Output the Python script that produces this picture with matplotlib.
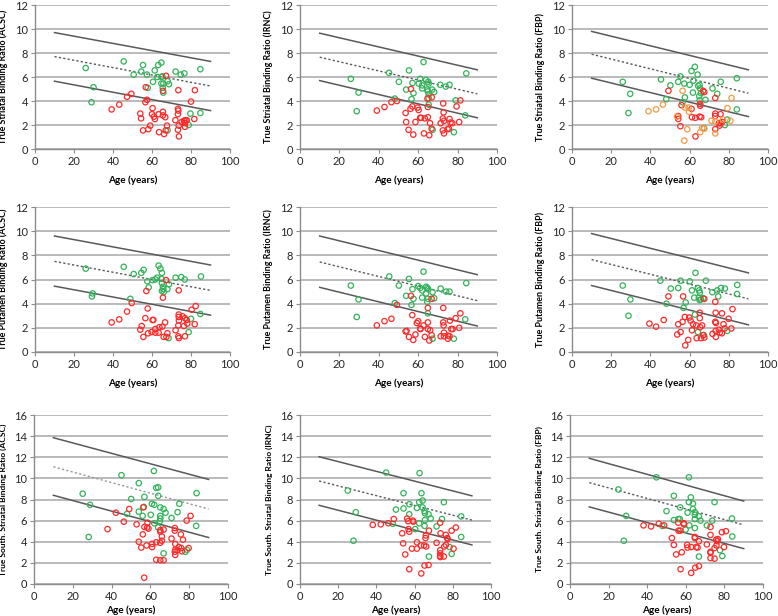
import matplotlib
matplotlib.use("Agg")
import matplotlib.pyplot as plt

# ---- data (age in years, binding ratio) ----
line_age = [10, 90]

# Row 1: striatal
str_acsc_green_age = [26, 30, 29, 45.5, 50.6, 55.4, 54.5, 57.4, 61.4, 63.2, 64.8, 62.7, 64.8, 65.3, 60.5, 57.8, 64.8, 65.8, 65.5, 65.8, 68, 68.7, 72.1, 74.7, 76.6, 84.8, 79.7, 84.8, 78.8, 68]
str_acsc_green_val = [6.75, 5.15, 3.9, 7.3, 6.2, 7.0, 6.45, 6.2, 6.55, 7.0, 7.2, 6.0, 6.0, 6.05, 5.6, 5.1, 5.45, 5.45, 5.1, 4.7, 5.65, 5.4, 6.45, 6.2, 6.3, 6.65, 2.95, 3.0, 2.0, 1.55]
str_acsc_red_age = [39.3, 43.2, 47.2, 49.4, 56.8, 57.4, 56.6, 54, 54.4, 55.4, 58.1, 59.1, 60.3, 60, 61, 61.5, 63.4, 65.6, 65.6, 65.6, 66.8, 67.2, 67.7, 63.6, 66.2, 67, 72, 73.3, 73.5, 73.3, 73.7, 73.3, 73.8, 73.5, 75.2, 76.4, 77.1, 77.8, 76.9, 76.9, 80, 82, 81.7]
str_acsc_red_val = [3.3, 3.7, 4.35, 4.6, 5.15, 4.1, 3.9, 2.95, 2.55, 1.55, 1.65, 1.95, 3.4, 2.9, 2.7, 2.5, 2.9, 3.1, 2.8, 4.85, 2.65, 6.1, 1.95, 1.4, 1.25, 1.55, 2.4, 3.35, 3.2, 2.9, 1.95, 1.6, 1.05, 4.9, 2.25, 2.35, 2.4, 2.4, 2.15, 1.85, 3.95, 4.9, 2.5]
str_acsc_lines = ([9.7, 7.3], [7.7, 5.25], [5.65, 3.2])

str_irnc_green_age = [25.8, 29.7, 28.8, 45.2, 50.2, 55.3, 53.9, 57.1, 57.6, 56.6, 48.1, 60.3, 61, 62, 62.7, 62, 64, 64.6, 65.1, 65.3, 64.9, 65.3, 67.1, 68.1, 65.3, 65.3, 67.3, 71.2, 74, 75.9, 78.1, 79, 83.9, 84.4]
str_irnc_green_val = [5.85, 4.7, 3.15, 6.35, 5.6, 6.55, 4.95, 5.5, 4.65, 4.15, 4.2, 5.45, 5.85, 5.3, 7.25, 5.05, 5.75, 4.95, 5.6, 5.45, 4.8, 4.55, 4.95, 4.75, 4.25, 3.7, 1.6, 5.35, 5.2, 5.35, 1.4, 4.05, 2.8, 6.3]
str_irnc_red_age = [39, 42.9, 46.4, 49.2, 56.3, 56.1, 57, 53.6, 53.9, 55.1, 57.5, 58.6, 59.7, 60.2, 61, 61.5, 63.4, 64.9, 64.7, 64.9, 66.9, 62.9, 65.6, 66, 66.8, 71.4, 72.7, 72.9, 72.5, 73.1, 72.5, 73.1, 74.9, 75.9, 75.6, 76.4, 77.3, 79.5, 81.4, 80.8]
str_irnc_red_val = [3.2, 3.5, 3.9, 4.0, 5.0, 3.35, 3.55, 3.0, 2.25, 1.6, 1.2, 2.25, 3.45, 3.25, 2.6, 2.6, 2.55, 2.65, 4.2, 3.5, 4.3, 1.3, 1.15, 2.15, 1.7, 2.15, 3.8, 3.05, 2.55, 2.35, 1.55, 1.3, 1.65, 2.5, 1.7, 2.2, 2.15, 3.55, 4.05, 2.25]
str_irnc_lines = ([9.65, 6.6], [7.65, 4.6], [5.7, 2.6])

str_fbp_green_age = [25.9, 29.7, 28.8, 45.4, 48.1, 50.2, 54.2, 55.3, 57.3, 57.6, 56.4, 60, 61, 62.7, 62, 61.7, 64.1, 64.4, 65.1, 65.3, 64.9, 65.1, 65.8, 68.1, 71.7, 74.1, 75.9, 84.1, 84.1, 79.2, 78, 67.3]
str_fbp_green_val = [5.6, 4.6, 3.0, 5.8, 4.15, 5.3, 5.6, 6.05, 5.45, 4.3, 3.9, 5.35, 6.5, 6.85, 5.7, 4.7, 6.2, 5.25, 5.35, 5.05, 4.4, 4.05, 4.65, 4.1, 5.05, 4.6, 5.6, 5.9, 3.3, 2.45, 2.0, 1.75]
str_fbp_red_age = [49.2, 55.9, 54.2, 54.2, 55.3, 61, 61.2, 62.9, 65.4, 65.4, 65.1, 65.9, 66.9, 67.5, 73.1, 73.1, 73.1, 73.1, 75.8, 75, 75.7, 76.6, 75.3, 63]
str_fbp_red_val = [4.85, 3.65, 2.75, 2.5, 1.9, 3.35, 2.65, 2.6, 3.75, 3.6, 2.7, 2.65, 4.85, 4.75, 4.25, 2.95, 2.75, 1.65, 2.9, 2.15, 2.15, 2.25, 1.95, 1.05]
str_fbp_orange_age = [39, 42.9, 46.4, 56.4, 57.6, 59.5, 59.7, 53.6, 58.8, 57.3, 65.4, 66.4, 67.5, 71.2, 73.1, 73.1, 77, 79.3, 81.4, 80.8]
str_fbp_orange_val = [3.15, 3.3, 3.7, 4.85, 3.45, 3.45, 3.1, 2.7, 1.65, 0.7, 1.4, 1.75, 1.7, 2.35, 2.3, 1.3, 2.45, 3.4, 4.25, 2.35]
str_fbp_lines = ([9.8, 6.6], [7.9, 4.65], [5.9, 2.7])

# Row 2: putamen
put_acsc_green_age = [26, 29.6, 29.2, 45.5, 50.6, 54.5, 55.7, 57.6, 58.3, 48.9, 60.3, 61.7, 62.6, 63.4, 64.3, 65.1, 64.8, 65.1, 65.6, 65.8, 65.1, 66, 67.9, 68.7, 72.1, 75, 76.8, 85.1, 84.8, 80, 78.8, 68.5]
put_acsc_green_val = [6.9, 4.85, 4.6, 7.05, 6.45, 6.55, 6.8, 5.85, 5.35, 4.4, 5.95, 6.0, 6.15, 7.15, 6.9, 6.55, 6.05, 5.7, 5.4, 5.2, 5.05, 4.95, 5.2, 5.6, 6.15, 6.2, 6.0, 6.25, 3.15, 2.75, 1.65, 1.15]
put_acsc_red_age = [39.3, 43.2, 47.2, 49.6, 57.1, 57.8, 56.6, 54, 54.7, 55.6, 58, 59.8, 60.3, 60.7, 61.7, 61.7, 63.8, 65.3, 65.6, 66.7, 67.2, 67.9, 63.4, 66, 67.4, 72.1, 73.7, 73.7, 73.8, 73.5, 73.5, 73.8, 73.7, 75.7, 76.9, 77.8, 76.4, 78.1, 76.9, 80.3, 82.4, 81.9]
put_acsc_red_val = [2.45, 2.7, 3.35, 4.05, 5.05, 3.6, 2.8, 1.85, 2.15, 1.25, 1.55, 1.65, 2.65, 2.65, 1.9, 1.6, 2.05, 2.1, 4.5, 2.45, 5.95, 1.55, 1.6, 1.25, 1.25, 1.8, 3.1, 2.9, 2.6, 2.2, 1.3, 1.15, 5.1, 2.95, 2.8, 2.65, 2.15, 2.35, 1.3, 3.5, 3.8, 2.3]
put_acsc_lines = ([9.6, 7.2], [7.5, 5.1], [5.45, 3.05])

put_irnc_green_age = [25.8, 29.7, 28.8, 45.3, 50.2, 55.3, 53.9, 57.1, 57.6, 56.6, 48.1, 60, 61, 62, 62.7, 62, 64, 64.6, 65.1, 64, 64.9, 64.6, 67.3, 68.1, 64.9, 67.3, 71.4, 74.2, 75.9, 78.1, 83.9, 84.4]
put_irnc_green_val = [5.5, 4.35, 2.9, 6.25, 5.5, 6.05, 4.65, 5.2, 4.4, 3.9, 4.05, 5.45, 5.3, 5.1, 6.65, 4.5, 5.4, 5.3, 5.2, 4.85, 4.4, 4.15, 4.95, 4.45, 3.2, 1.1, 5.25, 5.0, 5.0, 1.1, 2.7, 5.7]
put_irnc_red_age = [39, 42.9, 46.4, 49.2, 56.3, 57, 53.6, 54.1, 55.3, 57.5, 58.6, 59.3, 60, 61, 61.2, 62.7, 63.4, 64.9, 64.9, 64.9, 65.6, 66.1, 66.8, 66.8, 71.4, 72.7, 72.7, 72.9, 73.1, 73.1, 75.1, 75.1, 75.9, 76.1, 76.8, 77.5, 79, 81.4, 80.8]
put_irnc_red_val = [2.2, 2.55, 2.75, 3.9, 4.65, 3.05, 1.7, 1.75, 1.25, 1.0, 1.45, 2.4, 2.55, 1.95, 1.9, 2.2, 1.25, 2.45, 3.65, 1.9, 0.95, 1.8, 1.4, 4.4, 1.3, 3.65, 2.45, 2.2, 1.6, 1.3, 1.35, 1.1, 1.3, 2.6, 1.9, 1.9, 2.8, 3.2, 2.0]
put_irnc_lines = ([9.6, 6.4], [7.45, 4.25], [5.35, 2.15])

put_fbp_green_age = [25.9, 29.8, 28.8, 45.1, 48.2, 50.4, 54.2, 55.4, 58, 56.9, 60.1, 61.2, 63, 62.4, 64.2, 64.9, 65.2, 64.7, 65.1, 65.8, 68.3, 71.6, 74.1, 76, 78, 74.6, 84.2, 84.3, 79.2, 64.2, 67.3, 62.7, 66.9]
put_fbp_green_val = [5.5, 4.35, 3.0, 5.9, 4.0, 5.25, 5.3, 5.9, 4.1, 3.65, 5.85, 5.1, 6.55, 4.5, 5.3, 5.1, 4.9, 4.5, 4.3, 4.35, 5.9, 4.95, 5.1, 5.3, 5.25, 4.6, 4.8, 5.55, 1.75, 1.65, 1.4, 3.1, 4.45]
put_fbp_red_age = [39.5, 42.9, 46.8, 49.2, 56.7, 57.6, 56.4, 55.4, 53.7, 54.2, 57.8, 59.3, 59.8, 60.5, 61.2, 61.8, 63.4, 63.6, 65.2, 65.2, 65.4, 65.8, 66.4, 66.9, 67.5, 67.5, 71.7, 73.1, 73.3, 73.1, 73.4, 73.3, 73.4, 74.9, 75.4, 76.5, 76.5, 77.3, 77.9, 79.9, 81.9, 81.3]
put_fbp_red_val = [2.35, 2.1, 2.65, 4.6, 4.6, 2.9, 2.5, 1.65, 1.45, 2.3, 0.55, 1.0, 2.85, 2.6, 1.8, 2.3, 2.2, 1.15, 3.25, 2.8, 2.05, 1.15, 2.2, 1.4, 4.4, 1.2, 1.5, 4.15, 3.25, 2.5, 2.4, 1.75, 1.25, 1.85, 1.6, 3.2, 1.55, 2.3, 1.95, 2.75, 3.55, 1.95]
put_fbp_lines = ([9.8, 6.55], [7.65, 4.4], [5.5, 2.25])

# Row 3: south striatal
sth_acsc_green_age = [25.1, 28.9, 28.2, 45.1, 50.1, 54, 54, 56.9, 56.6, 56, 48, 60.2, 60.8, 62, 61.8, 63, 64, 64, 65.1, 65.1, 65.1, 64.9, 62, 64, 66.8, 67.8, 70.9, 74, 74.9, 83.8, 83.6, 66.8, 78, 78.8]
sth_acsc_green_val = [8.55, 7.5, 4.45, 10.3, 8.05, 9.55, 6.85, 8.25, 7.3, 6.45, 6.65, 6.55, 7.6, 7.5, 10.7, 9.1, 9.15, 8.35, 7.25, 6.45, 6.2, 5.95, 5.75, 5.35, 7.1, 6.75, 6.25, 6.8, 7.6, 8.6, 5.5, 2.9, 3.05, 3.25]
sth_acsc_red_age = [37.9, 42.2, 46.3, 49.1, 56.3, 52.9, 54, 55.3, 56.1, 56.9, 58.3, 58.5, 59, 58, 56.8, 60.9, 60.9, 63, 63, 65.1, 65.1, 65.1, 65.1, 65.9, 65.9, 66.8, 66.8, 70.9, 72.6, 72.6, 72.8, 72.8, 72.6, 72.8, 74, 74.7, 76.2, 75.9, 75.7, 76.8, 78.7, 79.7, 80.7]
sth_acsc_red_val = [5.2, 6.75, 5.9, 7.1, 7.25, 5.65, 4.0, 3.45, 4.7, 5.4, 5.35, 5.8, 5.25, 3.65, 0.6, 3.8, 3.5, 3.95, 2.3, 5.1, 4.95, 3.9, 2.25, 4.5, 4.1, 5.15, 2.25, 4.3, 5.3, 5.05, 3.8, 3.25, 3.05, 2.75, 3.2, 3.5, 3.1, 3.4, 4.7, 4.2, 6.0, 3.4, 6.45]
sth_acsc_lines = ([13.85, 9.9], [11.1, 7.1], [8.4, 4.4])

sth_irnc_green_age = [25, 29.2, 28, 45.1, 50.2, 54.2, 54.2, 57.3, 57.2, 48.6, 60.3, 61.2, 62.4, 62.6, 63.6, 64.2, 64.2, 65.2, 65.4, 65.4, 62.4, 65.2, 67.3, 68.4, 71.5, 74.3, 75.3, 84.4, 84.4, 67.5, 78.3, 79.4]
sth_irnc_green_val = [8.85, 6.8, 4.1, 10.55, 7.05, 8.6, 7.15, 7.55, 6.6, 5.7, 5.2, 7.2, 7.75, 10.5, 8.6, 7.9, 7.25, 6.9, 6.7, 6.05, 5.75, 5.5, 6.6, 6.2, 5.45, 6.15, 7.75, 6.4, 4.45, 2.6, 3.5, 2.85]
sth_irnc_red_age = [38.1, 42.3, 46.2, 49.1, 56.1, 56.6, 56.8, 53.5, 54, 55.1, 57.2, 58.6, 59.1, 59.3, 57.2, 61.2, 61.2, 63.3, 63.5, 65, 65.9, 65.7, 66.1, 65.2, 67.3, 67.5, 71.5, 73.4, 73.6, 73.4, 73.4, 73.4, 73.4, 75.5, 76.4, 75.3, 76.4, 77.1, 77.3, 79.4, 81.6, 80.4]
sth_irnc_red_val = [5.6, 5.65, 5.75, 6.15, 6.2, 5.95, 5.2, 4.8, 3.85, 2.8, 4.95, 3.35, 6.0, 5.9, 1.4, 3.95, 3.35, 3.65, 1.0, 3.65, 4.6, 4.35, 3.55, 1.75, 1.8, 5.05, 3.9, 5.8, 4.8, 3.2, 2.9, 2.65, 2.55, 3.55, 3.7, 2.6, 4.65, 4.35, 4.25, 5.05, 5.35, 3.35]
sth_irnc_lines = ([12.05, 8.35], [9.75, 6.05], [7.45, 3.7])

sth_fbp_green_age = [25.1, 29.1, 27.9, 44.8, 50, 53.8, 53.8, 57.1, 56.9, 56.1, 47.8, 59.9, 60.9, 61.6, 61.6, 62.6, 63.7, 63.7, 64.7, 64.7, 64.7, 61.8, 64.7, 66.8, 67.6, 70.9, 73.7, 74.9, 83.9, 84.1, 66.8, 77.7, 78.9]
sth_fbp_green_val = [8.95, 6.45, 4.1, 10.1, 6.9, 8.35, 6.05, 7.25, 6.15, 6.15, 5.5, 5.15, 6.75, 7.75, 10.1, 8.2, 7.6, 7.1, 6.8, 6.55, 6.15, 5.55, 5.3, 6.4, 6.0, 5.55, 6.0, 7.75, 6.2, 4.5, 2.6, 3.2, 2.65]
sth_fbp_red_age = [38.1, 42, 46, 48.8, 56.1, 56.2, 52.8, 53.8, 55, 57.1, 57.9, 59, 59, 57.3, 60.7, 60.9, 62.8, 62.8, 64.7, 64.7, 65.4, 66.1, 64.9, 66.8, 66.8, 70.9, 72.8, 72.8, 72.8, 72.8, 72.8, 74.9, 75.8, 74.9, 75.9, 76.6, 78.7, 80.8, 79.8, 76.3]
sth_fbp_red_val = [5.55, 5.45, 5.7, 5.55, 5.8, 5.05, 4.35, 3.7, 2.8, 5.05, 3.0, 5.75, 5.65, 1.4, 3.7, 3.45, 3.5, 1.05, 4.45, 4.35, 3.5, 3.45, 1.55, 1.7, 4.05, 3.75, 5.4, 4.65, 3.05, 2.95, 2.45, 3.4, 4.2, 2.4, 3.65, 4.25, 4.9, 5.0, 3.5, 4.05]
sth_fbp_lines = ([11.9, 7.85], [9.6, 5.6], [7.3, 3.35])

GREEN = "#33b35a"
RED = "#ff2a2a"
ORANGE = "#f59a45"
LINE = "#595959"

plt.rcParams["font.family"] = ["Lato", "DejaVu Sans"]

fig = plt.figure(figsize=(7.78, 6.16), dpi=100)


def box(l, r, t, b):
    # pixel box -> figure fraction
    return [l / 778, 1 - b / 616, (r - l) / 778, (b - t) / 616]


panels = [
    (box(35, 230, 5, 149), "True Striatal Binding Ratio (ACSC)", 12,
     [(str_acsc_green_age, str_acsc_green_val, GREEN), (str_acsc_red_age, str_acsc_red_val, RED)], str_acsc_lines),
    (box(300, 497, 5, 149), "True Striatal Binding Ratio (IRNC)", 12,
     [(str_irnc_green_age, str_irnc_green_val, GREEN), (str_irnc_red_age, str_irnc_red_val, RED)], str_irnc_lines),
    (box(572, 768, 5, 149), "True Striatal Binding Ratio (FBP)", 12,
     [(str_fbp_green_age, str_fbp_green_val, GREEN), (str_fbp_red_age, str_fbp_red_val, RED),
      (str_fbp_orange_age, str_fbp_orange_val, ORANGE)], str_fbp_lines),
    (box(35, 230, 207, 352), "True Putamen Binding Ratio (ACSC)", 12,
     [(put_acsc_green_age, put_acsc_green_val, GREEN), (put_acsc_red_age, put_acsc_red_val, RED)], put_acsc_lines),
    (box(300, 497, 207, 352), "True Putamen Binding Ratio (IRNC)", 12,
     [(put_irnc_green_age, put_irnc_green_val, GREEN), (put_irnc_red_age, put_irnc_red_val, RED)], put_irnc_lines),
    (box(572, 768, 207, 352), "True Putamen Binding Ratio (FBP)", 12,
     [(put_fbp_green_age, put_fbp_green_val, GREEN), (put_fbp_red_age, put_fbp_red_val, RED)], put_fbp_lines),
    (box(34, 228, 415, 584), "True South. Striatal Binding Ratio (ACSC)", 16,
     [(sth_acsc_green_age, sth_acsc_green_val, GREEN), (sth_acsc_red_age, sth_acsc_red_val, RED)], sth_acsc_lines),
    (box(300, 491, 415, 584), "True South. Striatal Binding Ratio (IRNC)", 16,
     [(sth_irnc_green_age, sth_irnc_green_val, GREEN), (sth_irnc_red_age, sth_irnc_red_val, RED)], sth_irnc_lines),
    (box(570, 763, 415, 584), "True South. Striatal Binding Ratio (FBP)", 16,
     [(sth_fbp_green_age, sth_fbp_green_val, GREEN), (sth_fbp_red_age, sth_fbp_red_val, RED)], sth_fbp_lines),
]

for i, (rect, ylabel, ymax, groups, lines) in enumerate(panels):
    ax = fig.add_axes(rect)
    ax.set_xlim(0, 100)
    ax.set_ylim(0, ymax)
    ax.set_xticks(range(0, 101, 20))
    ax.set_yticks(range(0, ymax + 1, 2))
    ax.yaxis.grid(True, color="#b4b4b4", linewidth=1.3)
    ax.set_axisbelow(True)
    for s in ("top", "right"):
        ax.spines[s].set_visible(False)
    for s in ("left", "bottom"):
        ax.spines[s].set_color("#8c8c8c")
        ax.spines[s].set_linewidth(1.0)
    ax.tick_params(axis="both", length=3, width=0.8, color="#8c8c8c",
                   labelsize=8, labelcolor="#262626", pad=2)

    upper, middle, lower = lines
    mid_color = "#9a9a9a" if i == 6 else LINE
    ax.plot(line_age, upper, color=LINE, linewidth=1.1, zorder=2)
    ax.plot(line_age, middle, color=mid_color, linewidth=1.0, linestyle=(0, (1.6, 1.6)), zorder=2)
    ax.plot(line_age, lower, color=LINE, linewidth=1.1, zorder=2)

    for ages, vals, col in groups:
        ax.scatter(ages, vals, s=15, facecolors="none", edgecolors=col,
                   linewidths=0.9, zorder=3)

    row3 = ymax == 16
    h = rect[3] * 616
    ax.set_ylabel(ylabel, fontsize=6.0 if row3 else 6.4, fontweight="bold")
    ax.yaxis.set_label_coords(-27 / (rect[2] * 778), 0.5)
    ax.set_xlabel("Age (years)", fontsize=7.2, fontweight="bold")
    ax.xaxis.set_label_coords(0.5, -(21 if row3 else 26) / h)

fig.savefig("out.png", dpi=100)
